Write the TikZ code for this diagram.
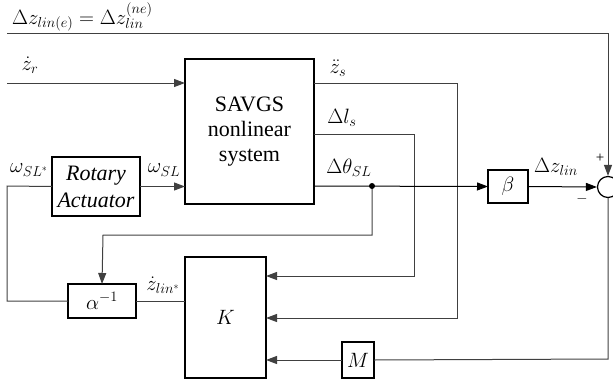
\documentclass[tikz,border=0pt]{standalone}
\usepackage{fontspec}
\setmainfont{Liberation Serif}
\usetikzlibrary{arrows.meta}
\begin{document}
\begin{tikzpicture}[x=1pt,y=-1pt,
  blk/.style={draw=black,line width=1.3pt,fill=white,inner sep=0pt,outer sep=0pt,font=\fontsize{22}{25}\selectfont,align=center},
  wire/.style={draw=black!75,line width=1pt},
  arr/.style={wire,-{Triangle[length=11pt,width=8pt]}},
  lbl/.style={inner sep=0pt,font=\fontsize{20}{22}\selectfont}]
\useasboundingbox (0,0) rectangle (613,383);
% blocks
\node[blk,minimum width=129pt,minimum height=145pt] (savgs) at (249.5,131.5) {SAVGS\\nonlinear\\system};
\node[blk,minimum width=88pt,minimum height=59pt,font=\fontsize{22}{27}\selectfont\itshape] (rot) at (96,186.5) {Rotary\\Actuator};
\node[blk,minimum width=68pt,minimum height=34pt] (alpha) at (102,301) {$\alpha^{-1}$};
\node[blk,minimum width=81pt,minimum height=121pt] (K) at (225.5,317.5) {$K$};
\node[blk,minimum width=40pt,minimum height=33pt] (beta) at (508,186.5) {$\beta$};
\node[blk,minimum width=32pt,minimum height=36pt,font=\fontsize{20}{22}\selectfont] (M) at (358,360) {$M$};
\node[draw=black,line width=1.2pt,circle,minimum size=21pt,inner sep=0pt] (sum) at (608,187) {};
% coordinates
\coordinate (topL) at (7,33);
\coordinate (zr) at (7,83);
\coordinate (lx) at (7,186);
\coordinate (xz) at (457,83);
\coordinate (xl) at (414,134);
\coordinate (dot) at (372,186);
\coordinate (fb) at (372,235);
\coordinate (fbL) at (103,235);
\coordinate (bot) at (608,359);
\coordinate (kin1) at (266,276);
\coordinate (kin2) at (266,318);
% connectors
\draw[arr] (topL) -| (sum.north);
\draw[arr] (zr) -- (zr -| savgs.west);
\draw[wire] (alpha.west) -| (lx) -- (rot.west);
\draw[arr] (rot.east) -- (rot.east -| savgs.west);
\draw[arr] (xz -| savgs.east) -- (xz) |- (kin2);
\draw[arr] (xl -| savgs.east) -- (xl) |- (kin1);
\draw[arr,draw=black] (dot -| savgs.east) -- (beta.west);
\draw[arr] (dot) -- (fb) -- (fbL) -- (alpha.north);
\fill (dot) circle (3pt);
\draw[arr,draw=black] (beta.east) -- (sum.west);
\draw[wire] (sum.south) -- (bot) -- (M.east);
\draw[arr] (M.west) -- (M.west -| K.east);
\draw[wire] (alpha.east) -- (alpha.east -| K.west);
% labels
\node[lbl,anchor=west] (t0) at (12,17) {$\Delta z_{lin(e)} = \Delta z_{lin}^{(ne)}$};
\node[lbl] (t1) at (30,65) {$\dot z_r$};
\node[lbl] (t2) at (29,170) {$\omega_{SL^*}$};
\node[lbl] (t3) at (164,170) {$\omega_{SL}$};
\node[lbl] (t4) at (338,68) {$\ddot z_s$};
\node[lbl] (t5) at (342,118) {$\Delta l_s$};
\node[lbl] (t6) at (349,168) {$\Delta\theta_{SL}$};
\node[lbl] (t7) at (556,167) {$\Delta z_{lin}$};
\node[lbl] (t8) at (163,285) {$\dot z_{lin^*}$};
\node[lbl,font=\fontsize{15}{16}\selectfont] (t9) at (600,158) {+};
\node[lbl,font=\fontsize{15}{16}\selectfont] (t10) at (582,199) {$-$};
\end{tikzpicture}
\end{document}
